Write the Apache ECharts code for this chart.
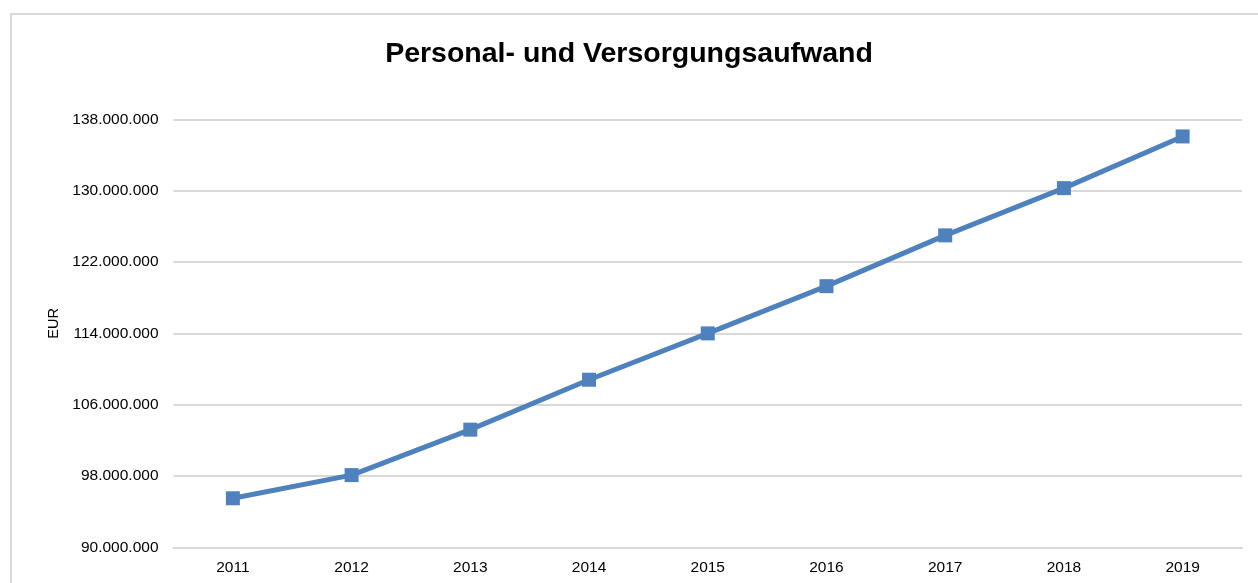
<!DOCTYPE html>
<html>
<head>
<meta charset="utf-8">
<script src="https://cdn.jsdelivr.net/npm/echarts@6/dist/echarts.min.js"></script>
<style>
    html, body { margin: 0; padding: 0; background: #fff; }
    #chart { width: 1258px; height: 583px; }
</style>
</head>
<body>
<div id="chart"></div>
<script>
// Daten
let years = ['2011', '2012', '2013', '2014', '2015', '2016', '2017', '2018', '2019'];
let aufwand = [95500000, 98100000, 103200000, 108800000, 114000000, 119300000, 125000000, 130300000, 136100000];
let yMin = 90000000, yMax = 138000000, yStep = 8000000;

window.addEventListener('load', function() {
    let myChart = echarts.init(document.getElementById('chart'));

    function fmt(v) {
        return String(Math.round(v)).replace(/\B(?=(\d{3})+(?!\d))/g, '.');
    }

    let option = {
        animation: false,
        textStyle: { fontFamily: 'Liberation Sans, Arial, sans-serif' },
        graphic: [{
            type: 'rect',
            shape: { x: 11, y: 14, width: 1300, height: 620 },
            style: { fill: 'none', stroke: '#d9d9d9', lineWidth: 2 },
            silent: true
        }],
        title: {
            text: 'Personal- und Versorgungsaufwand',
            left: 'center',
            top: 35,
            textStyle: {
                fontFamily: 'Liberation Sans, Arial, sans-serif',
                fontSize: 28.5,
                fontWeight: 'bold',
                color: '#000'
            }
        },
        grid: {
            left: 173.5,
            right: 16,
            top: 119.5,
            bottom: 35.7
        },
        xAxis: {
            type: 'category',
            data: years,
            boundaryGap: true,
            axisLine: { show: true, lineStyle: { color: '#d9d9d9', width: 2 } },
            axisTick: { show: false },
            axisLabel: { color: '#000', fontSize: 15.5, margin: 12 }
        },
        yAxis: {
            type: 'value',
            min: yMin,
            max: yMax,
            interval: yStep,
            name: 'EUR',
            nameLocation: 'middle',
            nameGap: 110,
            nameRotate: 90,
            nameTextStyle: { color: '#000', fontSize: 14.5, padding: [0, 0, 0, 20] },
            axisLine: { show: false },
            axisTick: { show: false },
            axisLabel: {
                color: '#000',
                fontSize: 15.5,
                margin: 15,
                formatter: fmt
            },
            splitLine: { lineStyle: { color: '#d9d9d9', width: 2 } }
        },
        series: [{
            name: 'Personal- und Versorgungsaufwand',
            type: 'line',
            data: aufwand,
            symbol: 'rect',
            symbolSize: 14,
            lineStyle: { color: '#4f81bd', width: 5 },
            itemStyle: { color: '#4f81bd' }
        }]
    };

    myChart.setOption(option);
});
</script>
</body>
</html>
